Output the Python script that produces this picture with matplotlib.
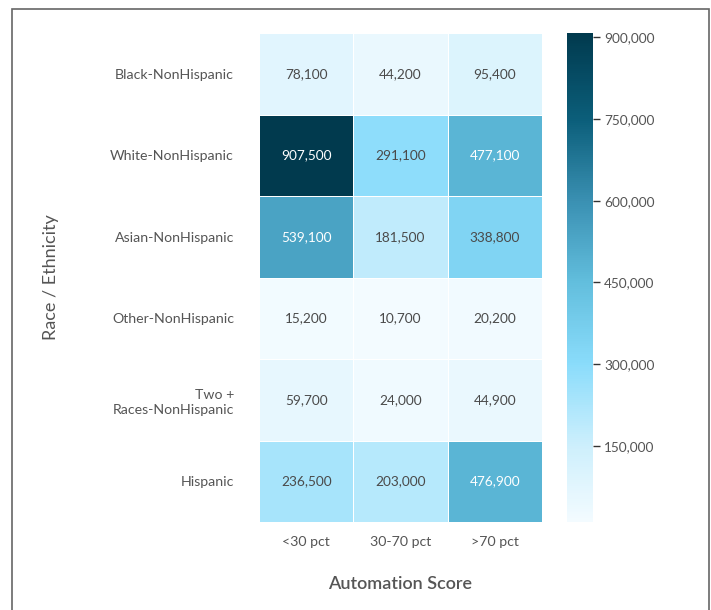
import numpy as np
import matplotlib
matplotlib.use("Agg")
import matplotlib.pyplot as plt
from matplotlib.colors import LinearSegmentedColormap, Normalize
from matplotlib.patches import Rectangle

plt.rcParams['font.family'] = ['Lato', 'DejaVu Sans']

# data
groups = ['Black-NonHispanic', 'White-NonHispanic', 'Asian-NonHispanic',
          'Other-NonHispanic', 'Two +\nRaces-NonHispanic', 'Hispanic']
scores = ['<30 pct', '30-70 pct', '>70 pct']
low = [78100, 907500, 539100, 15200, 59700, 236500]
mid = [44200, 291100, 181500, 10700, 24000, 203000]
high = [95400, 477100, 338800, 20200, 44900, 476900]
cbar_ticks = [150000, 300000, 450000, 600000, 750000, 900000]

vals = np.array([low, mid, high]).T
vmin, vmax = vals.min(), vals.max()

stops = [(10700, '#f3fbff'), (150000, '#cdeffc'), (300000, '#8adcfb'),
         (450000, '#62bedd'), (600000, '#3a90b2'), (750000, '#0b5e7a'),
         (907500, '#013a4e')]
cmap = LinearSegmentedColormap.from_list(
    'auto', [((v - vmin) / (vmax - vmin), c) for v, c in stops])
norm = Normalize(vmin=vmin, vmax=vmax)

fig = plt.figure(figsize=(7.11, 6.10), dpi=100)
ax = fig.add_axes([259/711, 1 - 522/610, 283/711, 489/610])
cax = fig.add_axes([567/711, 1 - 522/610, 26/711, 489/610])

mesh = ax.pcolormesh(vals, cmap=cmap, norm=norm, edgecolor='white', linewidth=0.7)
ax.set_xlim(0, 3)
ax.set_ylim(6, 0)
for i in range(len(groups)):
    for j in range(len(scores)):
        v = vals[i, j]
        col = 'white' if v > 400000 else '#4a4a4a'
        ax.text(j + 0.5, i + 0.5, f'{v:,}', ha='center', va='center',
                fontsize=9.8, color=col)

ax.set_xticks(np.arange(3) + 0.5)
ax.set_xticklabels(scores)
ax.set_yticks(np.arange(6) + 0.5)
ax.set_yticklabels(groups, ha='right', linespacing=1.3)
ax.tick_params(length=0, labelsize=10.2, labelcolor='#555555')
ax.tick_params(axis='y', pad=18)
ax.tick_params(axis='x', pad=10)
for s in ax.spines.values():
    s.set_visible(False)
ax.set_xlabel('Automation Score', fontsize=13, color='#555555',
              labelpad=20, fontweight='semibold')
ax.set_ylabel('Race / Ethnicity', fontsize=13, color='#555555', labelpad=37)

cb = fig.colorbar(mesh, cax=cax, ticks=cbar_ticks)
cb.ax.set_yticklabels([f'{t:,}' for t in cbar_ticks])
cb.ax.tick_params(length=5, width=1, color='#333333', labelsize=9.8,
                  labelcolor='#555555', pad=3)
cb.outline.set_visible(False)

fig.patches.append(Rectangle((12/711, -0.1), 697/711, 1.1 - 9/610,
                             transform=fig.transFigure, fill=False,
                             edgecolor='#666666', linewidth=1.2))

fig.savefig('out.png', dpi=100)
